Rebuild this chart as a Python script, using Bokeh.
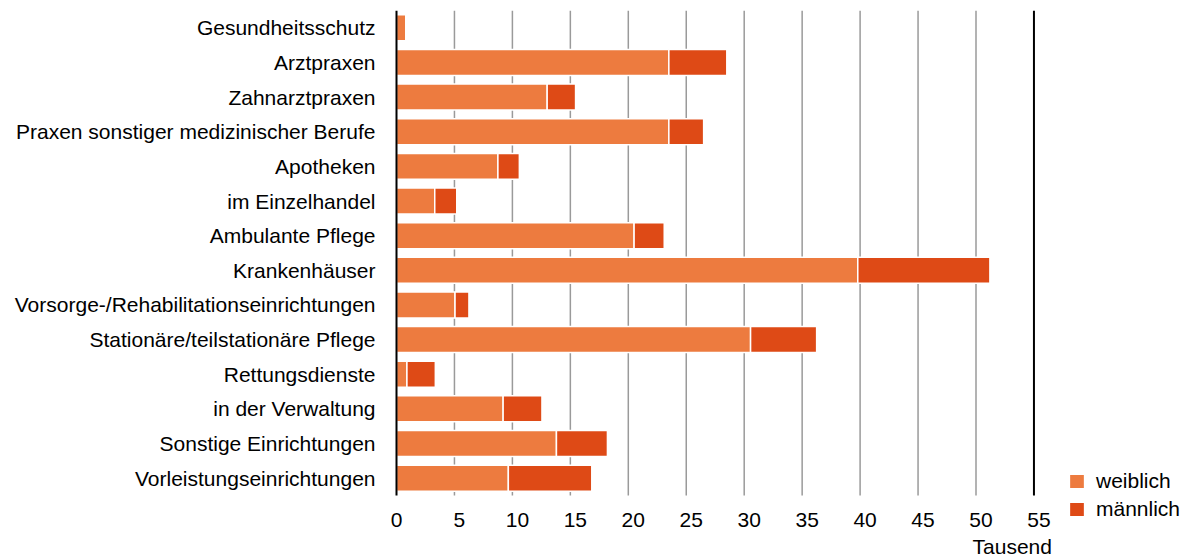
from bokeh.plotting import figure
from bokeh.models import Range1d, FixedTicker, Legend, LegendItem, ColumnDataSource
from bokeh.embed import file_html
from bokeh.resources import INLINE

categories = [
    "Gesundheitsschutz",
    "Arztpraxen",
    "Zahnarztpraxen",
    "Praxen sonstiger medizinischer Berufe",
    "Apotheken",
    "im Einzelhandel",
    "Ambulante Pflege",
    "Krankenhäuser",
    "Vorsorge-/Rehabilitationseinrichtungen",
    "Stationäre/teilstationäre Pflege",
    "Rettungsdienste",
    "in der Verwaltung",
    "Sonstige Einrichtungen",
    "Vorleistungseinrichtungen",
]
weiblich = [0.8, 23.5, 13.0, 23.5, 8.75, 3.3, 20.5, 39.8, 5.05, 30.55, 0.9, 9.2, 13.8, 9.65]
maennlich = [0.0, 5.0, 2.45, 3.0, 1.85, 1.9, 2.6, 11.4, 1.2, 5.7, 2.45, 3.35, 4.4, 7.2]
series_names = ["weiblich", "männlich"]
x_ticks = [0, 5, 10, 15, 20, 25, 30, 35, 40, 45, 50, 55]
unit_label = "Tausend"

colors = ["#ED7B3F", "#DE4A16"]
FONT = "Liberation Sans"
FS = "21px"

n = len(categories)
pos = [n - 1 - i for i in range(n)]          # first category at the top
y_lo, y_hi = -0.5, n - 0.5                     # extent of the category bands
x_max = x_ticks[-1]

source = ColumnDataSource(dict(pos=pos, w=weiblich, m=maennlich))

PX_X = 11.59   # pixels per thousand
PX_Y = 34.64   # pixels per category band
# frame: x 386..1187 px (value 0 at 396 px), y 10..560 px
p = figure(
    width=1187, height=560,
    x_range=Range1d(-10 / PX_X, 791 / PX_X),
    y_range=Range1d(y_hi - 550 / PX_Y, y_hi),
    x_axis_location=None,
    output_backend="svg", toolbar_location=None,
    min_border_left=386, min_border_right=0, min_border_top=10, min_border_bottom=0,
)
p.outline_line_color = None
p.background_fill_color = "white"
p.grid.visible = False

# vertical grid lines (behind the bars)
grid_x = x_ticks[1:-1]
p.segment(x0=grid_x, x1=grid_x, y0=[y_lo] * len(grid_x), y1=[y_hi] * len(grid_x),
          line_color="#9a9a9a", line_width=1.5)

renderers = p.hbar_stack(["w", "m"], y="pos", height=0.75, source=source,
                         color=colors, line_color="white", line_width=1.5)

# axis line at 0 and black line at 55
p.segment(x0=[0, x_max], x1=[0, x_max], y0=[y_lo, y_lo], y1=[y_hi, y_hi],
          line_color="black", line_width=2)

# category axis
p.yaxis.ticker = FixedTicker(ticks=pos)
p.yaxis.major_label_overrides = {pp: c for pp, c in zip(pos, categories)}
p.yaxis.axis_line_color = None
p.yaxis.major_tick_line_color = None
p.yaxis.minor_tick_line_color = None
p.yaxis.major_label_text_font = FONT
p.yaxis.major_label_text_font_size = FS
p.yaxis.major_label_text_color = "black"
p.yaxis.major_label_standoff = 5

# value tick labels and unit
tick_src = ColumnDataSource(dict(
    x=x_ticks, y=[y_lo] * len(x_ticks), t=[str(t) for t in x_ticks],
    dx=[0 if t == 0 else 5 for t in x_ticks]))
p.text(x="x", y="y", text="t", x_offset="dx", y_offset=25, source=tick_src,
       text_align="center", text_baseline="middle",
       text_font={"value": FONT}, text_font_size={"value": FS}, text_color="black")
p.text(x=[x_max], y=[y_lo], text=[unit_label], x_offset=18, y_offset=51,
       text_align="right", text_baseline="middle",
       text_font={"value": FONT}, text_font_size={"value": FS}, text_color="black")

legend = Legend(
    items=[LegendItem(label=series_names[i], renderers=[renderers[i]]) for i in range(2)],
    location=(681, 39), orientation="vertical",
    glyph_width=19, glyph_height=18, label_height=18, label_standoff=10, spacing=4,
    padding=0, margin=0, border_line_color=None, background_fill_alpha=0,
    label_text_font=FONT, label_text_font_size=FS, label_text_color="black",
)
p.add_layout(legend, "center")

open("out.html", "w").write(file_html(p, INLINE))
